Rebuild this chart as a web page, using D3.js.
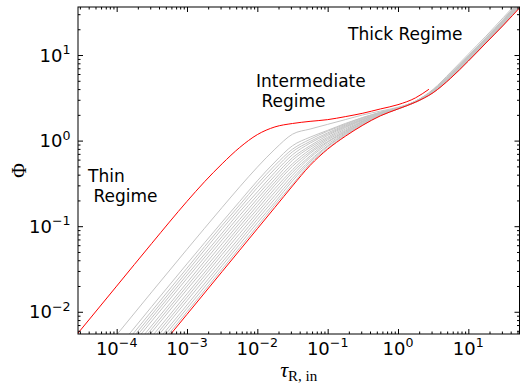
<!DOCTYPE html>
<html>
<head>
<meta charset="utf-8">
<script src="https://cdn.jsdelivr.net/npm/d3@7"></script>
<style>
  html, body { margin: 0; padding: 0; background: #fff; }
  svg { display: block; }
</style>
</head>
<body>
<div id="chart"></div>
<script>
// log10 tau grid shared by the grey family and the lower red curve
const logTauGrid = [-4, -3, -2.5, -2.25, -2, -1.75, -1.5, -1.25, -1, -0.75, -0.5, -0.25, 0, 0.25, 0.5, 0.75, 1, 1.25, 1.5, 1.75];

// upper red curve (own grid, ends near tau ~ 2.7)
const redUpperLogTau = [-4.6, -4, -3.5, -3, -2.75, -2.5, -2.25, -2, -1.75, -1.5, -1.25, -1, -0.75, -0.5, -0.25, 0, 0.25, 0.44];
const redUpperLogPhi = [-2.30, -1.70, -1.20, -0.71, -0.48, -0.27, -0.08, 0.07, 0.16, 0.20, 0.225, 0.245, 0.28, 0.32, 0.37, 0.42, 0.50, 0.60];

// lower red curve on logTauGrid
const redLowerLogPhi = [-3.03, -2.03, -1.53, -1.28, -1.03, -0.78, -0.53, -0.29, -0.10, 0.05, 0.18, 0.29, 0.37, 0.45, 0.56, 0.73, 0.93, 1.14, 1.35, 1.57];

// grey curves on logTauGrid (log10 Phi)
const greyLogPhi = [
  [-2.27, -1.27, -0.78, -0.54, -0.31, -0.10, 0.075, 0.135, 0.19, 0.245, 0.30, 0.345, 0.39, 0.46, 0.60, 0.80, 1.01, 1.22, 1.44, 1.66],
  [-2.44, -1.44, -0.95, -0.71, -0.47, -0.25, -0.06, 0.04, 0.12, 0.20, 0.27, 0.33, 0.385, 0.46, 0.59, 0.78, 0.99, 1.20, 1.42, 1.65],
  [-2.49, -1.49, -0.99, -0.75, -0.51, -0.29, -0.10, 0.015, 0.11, 0.19, 0.27, 0.33, 0.38, 0.46, 0.59, 0.78, 0.99, 1.20, 1.41, 1.645],
  [-2.53, -1.53, -1.03, -0.79, -0.55, -0.33, -0.13, -0.01, 0.09, 0.18, 0.26, 0.33, 0.38, 0.46, 0.59, 0.78, 0.98, 1.19, 1.41, 1.64],
  [-2.57, -1.57, -1.08, -0.83, -0.60, -0.37, -0.165, -0.03, 0.075, 0.17, 0.25, 0.32, 0.38, 0.46, 0.58, 0.77, 0.98, 1.19, 1.40, 1.635],
  [-2.61, -1.61, -1.12, -0.875, -0.64, -0.41, -0.20, -0.06, 0.06, 0.16, 0.245, 0.32, 0.38, 0.455, 0.58, 0.77, 0.97, 1.18, 1.40, 1.63],
  [-2.66, -1.66, -1.16, -0.92, -0.68, -0.45, -0.23, -0.08, 0.04, 0.15, 0.24, 0.32, 0.38, 0.455, 0.58, 0.76, 0.97, 1.18, 1.39, 1.625],
  [-2.70, -1.70, -1.205, -0.96, -0.72, -0.485, -0.27, -0.105, 0.025, 0.135, 0.23, 0.31, 0.38, 0.455, 0.58, 0.76, 0.965, 1.175, 1.39, 1.62],
  [-2.74, -1.74, -1.25, -1.00, -0.76, -0.52, -0.30, -0.13, 0.01, 0.12, 0.225, 0.31, 0.38, 0.455, 0.575, 0.755, 0.96, 1.17, 1.385, 1.615],
  [-2.79, -1.79, -1.29, -1.04, -0.80, -0.56, -0.34, -0.15, -0.01, 0.11, 0.22, 0.31, 0.375, 0.45, 0.57, 0.75, 0.955, 1.165, 1.38, 1.61],
  [-2.83, -1.83, -1.33, -1.085, -0.84, -0.60, -0.37, -0.18, -0.02, 0.10, 0.21, 0.305, 0.375, 0.45, 0.57, 0.75, 0.95, 1.16, 1.375, 1.605],
  [-2.87, -1.87, -1.375, -1.13, -0.88, -0.64, -0.405, -0.20, -0.04, 0.09, 0.205, 0.30, 0.375, 0.45, 0.57, 0.745, 0.945, 1.155, 1.37, 1.60],
  [-2.92, -1.92, -1.42, -1.17, -0.92, -0.68, -0.44, -0.23, -0.06, 0.08, 0.20, 0.30, 0.37, 0.45, 0.565, 0.74, 0.94, 1.15, 1.365, 1.595],
  [-2.96, -1.96, -1.46, -1.21, -0.96, -0.72, -0.47, -0.25, -0.07, 0.07, 0.19, 0.295, 0.37, 0.45, 0.565, 0.74, 0.94, 1.15, 1.36, 1.59],
  [-3.00, -2.00, -1.50, -1.25, -1.00, -0.75, -0.51, -0.27, -0.09, 0.06, 0.185, 0.29, 0.37, 0.45, 0.56, 0.73, 0.93, 1.14, 1.35, 1.585]
];

const xTickExps = [-4, -3, -2, -1, 0, 1];
const yTickExps = [-2, -1, 0, 1];

const annotations = [
  { lines: ["Thin", " Regime"], x: 88, y: 182 },
  { lines: ["Intermediate", " Regime"], x: 256, y: 87 },
  { lines: ["Thick Regime"], x: 348, y: 39.5 }
];

const width = 520, height = 386;
const margin = { top: 7, right: 0.5, bottom: 52, left: 78 };
const innerW = width - margin.left - margin.right;
const innerH = height - margin.top - margin.bottom;

const x = d3.scaleLog().domain([2.82e-5, 53.4]).range([margin.left, margin.left + innerW]);
const y = d3.scaleLog().domain([5.5e-3, 36.4]).range([margin.top + innerH, margin.top]);

const svg = d3.select('#chart').append('svg')
  .attr('width', width)
  .attr('height', height);

svg.append('defs').append('clipPath').attr('id', 'plot-clip')
  .append('rect')
  .attr('x', margin.left).attr('y', margin.top)
  .attr('width', innerW).attr('height', innerH);

const line = d3.line()
  .x(d => x(d[0]))
  .y(d => y(d[1]))
  .curve(d3.curveMonotoneX);

const toPoints = (lt, lp) => lt.map((t, i) => [Math.pow(10, t), Math.pow(10, lp[i])]);

const plot = svg.append('g').attr('clip-path', 'url(#plot-clip)');

// grey family
plot.selectAll('path.grey')
  .data(greyLogPhi)
  .enter()
  .append('path')
  .attr('class', 'grey')
  .attr('d', d => line(toPoints(logTauGrid, d)))
  .attr('fill', 'none')
  .attr('stroke', '#c4c4c4')
  .attr('stroke-width', 1);

// red bounding curves
plot.append('path')
  .attr('d', line(toPoints(redUpperLogTau, redUpperLogPhi)))
  .attr('fill', 'none')
  .attr('stroke', '#ff0000')
  .attr('stroke-width', 1);

plot.append('path')
  .attr('d', line(toPoints(logTauGrid, redLowerLogPhi)))
  .attr('fill', 'none')
  .attr('stroke', '#ff0000')
  .attr('stroke-width', 1);

// ticks
const minorsFor = (domain) => {
  const out = [];
  const lo = Math.floor(Math.log10(domain[0])), hi = Math.ceil(Math.log10(domain[1]));
  for (let e = lo; e <= hi; e++) {
    for (let k = 2; k <= 9; k++) {
      const v = k * Math.pow(10, e);
      if (v >= domain[0] && v <= domain[1]) out.push(v);
    }
  }
  return out;
};
const xMajors = xTickExps.map(e => Math.pow(10, e));
const yMajors = yTickExps.map(e => Math.pow(10, e));
const xMinors = minorsFor(x.domain());
const yMinors = minorsFor(y.domain());
const majorLen = 5, minorLen = 2.5;

function addAxis(gen, transform) {
  const g = svg.append('g').attr('transform', transform).call(gen);
  g.select('.domain').remove();
  g.selectAll('line').attr('stroke', '#000').attr('stroke-width', 1);
}

const bottomY = margin.top + innerH, rightX = margin.left + innerW;
addAxis(d3.axisBottom(x).tickValues(xMajors).tickSize(-majorLen).tickFormat(''), `translate(0,${bottomY})`);
addAxis(d3.axisBottom(x).tickValues(xMinors).tickSize(-minorLen).tickFormat(''), `translate(0,${bottomY})`);
addAxis(d3.axisTop(x).tickValues(xMajors).tickSize(-majorLen).tickFormat(''), `translate(0,${margin.top})`);
addAxis(d3.axisTop(x).tickValues(xMinors).tickSize(-minorLen).tickFormat(''), `translate(0,${margin.top})`);
addAxis(d3.axisLeft(y).tickValues(yMajors).tickSize(-majorLen).tickFormat(''), `translate(${margin.left},0)`);
addAxis(d3.axisLeft(y).tickValues(yMinors).tickSize(-minorLen).tickFormat(''), `translate(${margin.left},0)`);
addAxis(d3.axisRight(y).tickValues(yMajors).tickSize(-majorLen).tickFormat(''), `translate(${rightX},0)`);
addAxis(d3.axisRight(y).tickValues(yMinors).tickSize(-minorLen).tickFormat(''), `translate(${rightX},0)`);

// spines
svg.append('rect')
  .attr('x', margin.left).attr('y', margin.top)
  .attr('width', innerW).attr('height', innerH)
  .attr('fill', 'none').attr('stroke', '#000').attr('stroke-width', 1);

// tick labels with superscript exponents
const tickFont = 18, supFont = 12.6;
function powLabel(sel, e) {
  sel.append('tspan').text('10');
  sel.append('tspan').attr('font-size', supFont).attr('dy', -7.5)
    .text(e < 0 ? '\u2212' + Math.abs(e) : String(e));
}

xTickExps.forEach(e => {
  const t = svg.append('text')
    .attr('x', x(Math.pow(10, e))).attr('y', bottomY + 20.5)
    .attr('text-anchor', 'middle')
    .attr('font-family', 'DejaVu Sans').attr('font-size', tickFont).attr('fill', '#000');
  powLabel(t, e);
});

yTickExps.forEach(e => {
  const t = svg.append('text')
    .attr('x', margin.left - 7.5).attr('y', y(Math.pow(10, e)) + 6.5)
    .attr('text-anchor', 'end')
    .attr('font-family', 'DejaVu Sans').attr('font-size', tickFont).attr('fill', '#000');
  powLabel(t, e);
});

// axis labels
const xl = svg.append('text')
  .attr('x', margin.left + innerW / 2).attr('y', 377)
  .attr('text-anchor', 'middle')
  .attr('font-family', 'Liberation Serif, DejaVu Serif, serif').attr('fill', '#000');
xl.append('tspan').attr('font-style', 'italic').attr('font-size', 22).text('\u03C4');
xl.append('tspan').attr('font-size', 15).attr('dy', 3.5).text('R, in');

svg.append('text')
  .attr('transform', `translate(26,${margin.top + innerH / 2}) rotate(-90)`)
  .attr('text-anchor', 'middle')
  .attr('font-family', 'Liberation Serif, DejaVu Serif, serif')
  .attr('font-size', 20).attr('fill', '#000')
  .text('\u03A6');

// regime annotations
annotations.forEach(a => {
  const t = svg.append('text')
    .attr('x', a.x).attr('y', a.y)
    .attr('font-family', 'DejaVu Sans').attr('font-size', 17).attr('fill', '#000')
    .attr('xml:space', 'preserve')
    .style('white-space', 'pre');
  a.lines.forEach((s, i) => {
    t.append('tspan').attr('x', a.x).attr('dy', i === 0 ? 0 : 19.5).text(s);
  });
});
</script>
</body>
</html>
